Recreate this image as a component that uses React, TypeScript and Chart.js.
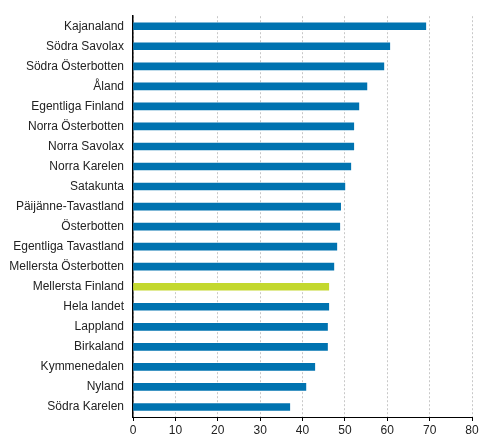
import React, { useEffect, useRef } from "react";
import Chart from "chart.js/auto";

const regions = [
  "Kajanaland",
  "Södra Savolax",
  "Södra Österbotten",
  "Åland",
  "Egentliga Finland",
  "Norra Österbotten",
  "Norra Savolax",
  "Norra Karelen",
  "Satakunta",
  "Päijänne-Tavastland",
  "Österbotten",
  "Egentliga Tavastland",
  "Mellersta Österbotten",
  "Mellersta Finland",
  "Hela landet",
  "Lappland",
  "Birkaland",
  "Kymmenedalen",
  "Nyland",
  "Södra Karelen",
];

const values = [
  69.1, 60.6, 59.2, 55.2, 53.3, 52.1, 52.1, 51.4, 50.0, 49.0, 48.8, 48.1, 47.4,
  46.2, 46.2, 45.9, 45.9, 42.9, 40.8, 37.0,
];

const highlight = "Mellersta Finland";
const xTicks = [0, 10, 20, 30, 40, 50, 60, 70, 80];

const BLUE = "#0073b0";
const GREEN = "#c3d82e";

const App = () => {
  const chartRef = useRef<HTMLCanvasElement>(null);
  const chartInstance = useRef<any>(null);

  useEffect(() => {
    document.body.style.margin = "0";
    if (!chartRef.current) return;
    const ctx: any = chartRef.current.getContext("2d");
    if (chartInstance.current) chartInstance.current.destroy();

    chartInstance.current = new Chart(ctx, {
      type: "bar",
      data: {
        labels: regions,
        datasets: [
          {
            data: values,
            backgroundColor: regions.map((r) => (r === highlight ? GREEN : BLUE)),
            barThickness: 7,
            borderWidth: 0,
          },
        ],
      },
      options: {
        indexAxis: "y",
        responsive: false,
        animation: false,
        layout: { padding: { left: 0, right: 21, top: 14, bottom: 0 } },
        plugins: {
          legend: { display: false },
          tooltip: { enabled: false },
        },
        scales: {
          x: {
            min: 0,
            max: 80,
            afterBuildTicks: (scale: any) => {
              scale.ticks = xTicks.map((v) => ({ value: v }));
            },
            afterFit: (scale: any) => {
              scale.height = 30;
            },
            grid: {
              color: "#c8c8c8",
              lineWidth: 1,
              drawTicks: true,
              tickLength: 4,
              tickColor: "#000",
              tickBorderDash: [],
            },
            border: { display: true, color: "#000", width: 1, dash: [2, 2] },
            ticks: {
              color: "#222",
              font: { family: "Liberation Sans, Arial", size: 12 },
              padding: 2,
              maxRotation: 0,
            },
          },
          y: {
            afterFit: (scale: any) => {
              scale.width = 133;
            },
            grid: { display: false, drawTicks: false },
            border: { display: true, color: "#000", width: 1.5 },
            ticks: {
              color: "#222",
              font: { family: "Liberation Sans, Arial", size: 12 },
              padding: 9,
              autoSkip: false,
            },
          },
        },
      },
    });

    return () => {
      if (chartInstance.current) {
        chartInstance.current.destroy();
        chartInstance.current = null;
      }
    };
  }, []);

  return (
    <div style={{ width: 493, height: 447, background: "#fff" }}>
      <canvas ref={chartRef} width={493} height={447} />
    </div>
  );
};

export default App;
